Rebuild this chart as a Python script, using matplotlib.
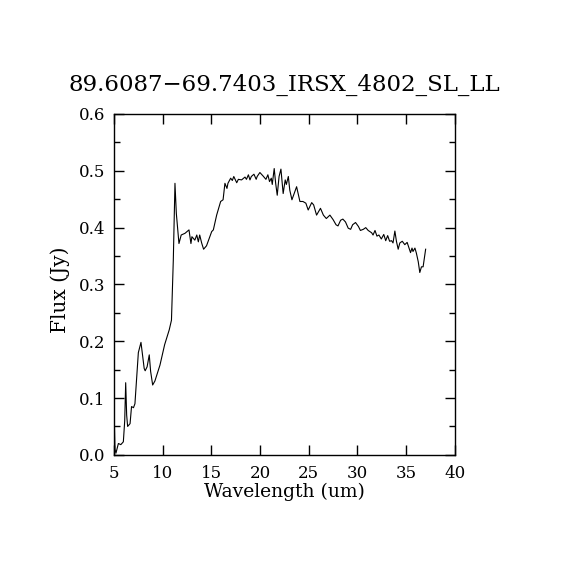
import matplotlib
matplotlib.use('Agg')
import matplotlib.pyplot as plt
from matplotlib.ticker import MultipleLocator

# spectrum
wave = [5.05, 5.1, 5.2, 5.45, 5.7, 5.96, 6.1, 6.2, 6.3, 6.4, 6.65, 6.8, 7.0, 7.15,
        7.5, 7.77, 7.9, 8.1, 8.2, 8.4, 8.62, 8.76, 8.97, 9.2, 9.72, 10.2, 10.67,
        10.9, 11.09, 11.26, 11.4, 11.67, 11.9, 12.29, 12.7, 12.9, 13.0, 13.3, 13.5,
        13.66, 13.8, 14.0, 14.2, 14.5, 15.03, 15.2, 15.54, 15.95, 16.2, 16.39,
        16.6, 16.7, 16.98, 17.15, 17.3, 17.6, 17.77, 18.1, 18.45, 18.6, 18.8,
        18.96, 19.1, 19.37, 19.6, 19.7, 19.98, 20.3, 20.6, 20.8, 20.97, 21.15,
        21.25, 21.45, 21.6, 21.76, 21.95, 22.14, 22.37, 22.58, 22.7, 22.9, 23.05,
        23.27, 23.5, 23.75, 24.09, 24.4, 24.7, 24.94, 25.3, 25.5, 25.8, 26.2,
        26.5, 26.8, 27.17, 27.5, 27.8, 28.0, 28.27, 28.5, 28.77, 29.05, 29.3,
        29.5, 29.8, 30.1, 30.3, 30.6, 30.85, 31.1, 31.45, 31.6, 31.8, 32.0, 32.2,
        32.45, 32.7, 32.9, 33.1, 33.3, 33.5, 33.65, 33.84, 34.0, 34.18, 34.35,
        34.6, 34.86, 35.1, 35.3, 35.45, 35.6, 35.7, 35.9, 36.05, 36.24, 36.4,
        36.57, 36.74, 37.0]
flux = [0.048, 0.01, 0.003, 0.02, 0.018, 0.023, 0.06, 0.127, 0.07, 0.05, 0.055,
        0.085, 0.083, 0.09, 0.18, 0.198, 0.18, 0.152, 0.148, 0.155, 0.176, 0.147,
        0.123, 0.13, 0.158, 0.194, 0.22, 0.237, 0.343, 0.478, 0.425, 0.372,
        0.387, 0.39, 0.396, 0.372, 0.384, 0.378, 0.387, 0.375, 0.387, 0.373,
        0.362, 0.368, 0.393, 0.396, 0.422, 0.446, 0.449, 0.478, 0.469, 0.478,
        0.487, 0.483, 0.49, 0.479, 0.485, 0.484, 0.489, 0.485, 0.493, 0.484,
        0.49, 0.494, 0.485, 0.49, 0.497, 0.491, 0.485, 0.493, 0.481, 0.487,
        0.476, 0.504, 0.478, 0.457, 0.49, 0.503, 0.46, 0.484, 0.476, 0.49, 0.466,
        0.449, 0.46, 0.472, 0.446, 0.446, 0.443, 0.431, 0.444, 0.44, 0.422,
        0.434, 0.422, 0.416, 0.422, 0.414, 0.405, 0.403, 0.413, 0.415, 0.41,
        0.399, 0.397, 0.405, 0.409, 0.402, 0.395, 0.397, 0.4, 0.395, 0.391,
        0.387, 0.395, 0.385, 0.387, 0.38, 0.388, 0.377, 0.386, 0.376, 0.377,
        0.373, 0.394, 0.376, 0.362, 0.373, 0.376, 0.37, 0.374, 0.364, 0.356,
        0.364, 0.358, 0.364, 0.355, 0.34, 0.321, 0.331, 0.331, 0.362]

title = '89.6087\u221269.7403_IRSX_4802_SL_LL'

plt.rcParams['font.family'] = ['DejaVu Serif']

fig = plt.figure(figsize=(5.7, 5.7), dpi=100)
ax = fig.add_axes([0.2, 0.202, 0.598, 0.598])
ax.plot(wave, flux, color='black', linewidth=0.8)

ax.set_xlim(5, 40)
ax.set_ylim(0, 0.6)
ax.xaxis.set_major_locator(MultipleLocator(5))
ax.yaxis.set_major_locator(MultipleLocator(0.1))
ax.yaxis.set_minor_locator(MultipleLocator(0.05))
ax.yaxis.set_major_formatter(plt.FuncFormatter(lambda v, p: f'{v:.1f}'))
ax.tick_params(which='both', direction='in', top=True, right=True,
               labelsize=12, width=1)
ax.tick_params(axis='x', pad=7)
ax.tick_params(axis='y', pad=6)
ax.tick_params(which='major', length=7)
ax.tick_params(which='minor', length=4)
for s in ax.spines.values():
    s.set_linewidth(1)

ax.set_xlabel('Wavelength (um)', fontsize=13.5, labelpad=1)
ax.set_ylabel('Flux (Jy)', fontsize=14.5)
ax.yaxis.set_label_coords(-0.13, 0.485)
ax.set_title(title, fontsize=16.5, pad=17)

fig.savefig('out.png', dpi=100, facecolor='white')
